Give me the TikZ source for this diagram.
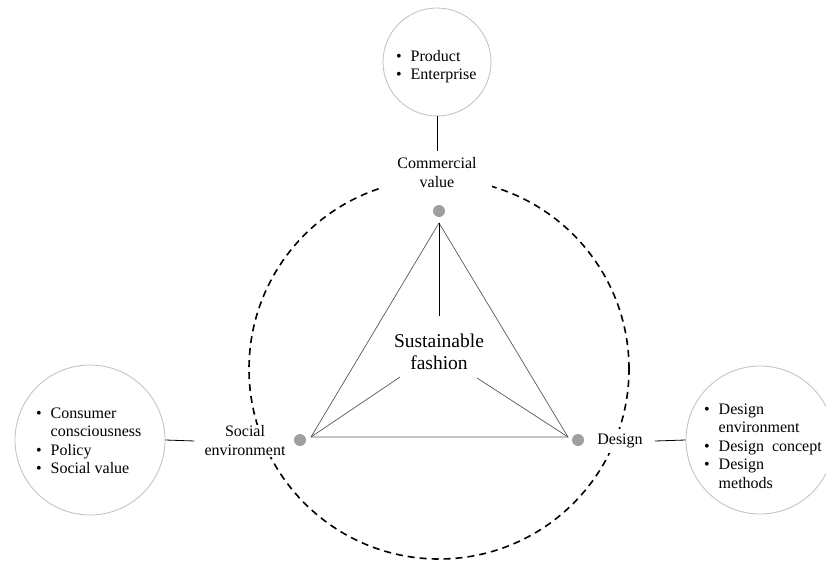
\documentclass[tikz,border=0pt]{standalone}
\usepackage{fontspec}
\setmainfont{Liberation Serif}
\newcommand\bl{\makebox[14.5pt][l]{\textbullet}}
\newcommand\blsp{\hspace*{14.5pt}}
\begin{document}
\begin{tikzpicture}[x=1pt,y=-1pt,
  txt/.style={font=\fontsize{16}{18.5}\selectfont, align=left, inner sep=0pt},
  lbl/.style={font=\fontsize{16}{19}\selectfont, align=center, fill=white, inner ysep=1pt},
  bubble/.style={circle, draw=gray!50, line width=0.8pt, inner sep=0pt},
  dot/.style={circle, fill=gray!75, inner sep=0pt, minimum size=12pt},
  tri/.style={draw=black!65, line width=0.7pt},
  link/.style={draw=black, line width=0.8pt},
  dashring/.style={draw=black, line width=1.6pt, dash pattern=on 7pt off 5pt}]
\useasboundingbox (0,0) rectangle (826,562);
\fill[white] (0,0) rectangle (826,562);
% outer bubbles
\node[bubble, minimum size=108pt] (ctop) at (437,62) {};
\node[bubble, minimum size=150pt] (cleft) at (90,440) {};
\node[bubble, minimum size=148pt] (cright) at (760,440) {};
% dashed ring
\coordinate (ring) at (439,369);
\draw[dashring] (ring) circle[radius=190pt];
% labels
\node[lbl, inner xsep=15pt] (lcom) at (437,173) {Commercial\\value};
\node[lbl, inner xsep=10pt] (lsoc) at (245,441) {Social\\environment};
\node[lbl, inner xsep=12pt, inner ysep=5pt] (ldes) at (620,441) {Design};
\draw[link, shorten >=6pt] (ctop.south) -- (lcom.north);
\draw[link] (cleft.east) -- (lsoc.west);
\draw[link] (ldes.east) -- (cright.west);
% bubble texts
\node[txt, anchor=west] (ttop) at (396,66.5) {\bl Product\\\bl Enterprise};
\node[txt, anchor=west] (tleft) at (36,441) {\bl Consumer\\\blsp consciousness\\\bl Policy\\\bl Social value};
\node[txt, anchor=west] (tright) at (704,446) {\bl Design\\\blsp environment\\\bl Design\ \ concept\\\bl Design\\\blsp methods};
% triangle
\node[dot] (dtop) at (439,211) {};
\node[dot] (dleft) at (300,440) {};
\node[dot] (dright) at (578,440) {};
\coordinate (A) at (439,223);
\coordinate (B) at (311,437);
\coordinate (C) at (568,437);
\draw[tri] (A) -- (B) -- (C) -- cycle;
\node[font=\fontsize{19.5}{22}\selectfont, align=center, inner sep=0pt] (sf) at (439,352) {Sustainable\\fashion};
\coordinate (sfA) at (439,316);
\coordinate (sfB) at (400,377);
\coordinate (sfC) at (477,378);
\draw[link] (A) -- (sfA);
\draw[tri] (B) -- (sfB);
\draw[tri] (C) -- (sfC);
\end{tikzpicture}
\end{document}
